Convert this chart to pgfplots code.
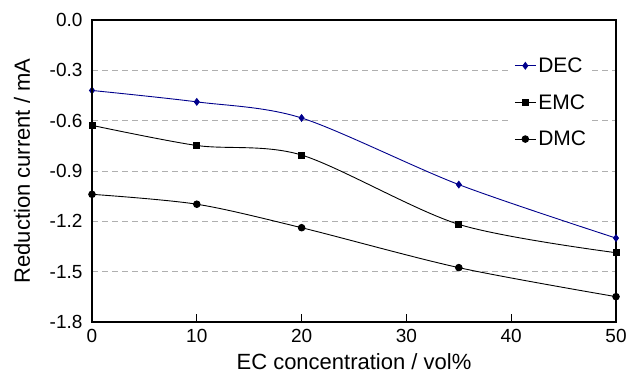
\documentclass[border=0pt]{standalone}
\usepackage{fontspec}
\setmainfont{Liberation Sans}
\usepackage{pgfplots}
\pgfplotsset{compat=1.18}
\usetikzlibrary{calc}
\definecolor{decblue}{RGB}{0,0,140}
\definecolor{gridgray}{RGB}{175,175,175}
\begin{document}
\begin{tikzpicture}
\begin{axis}[
  name=ax,
  scale only axis,
  width=524bp, height=302bp,
  xmin=0, xmax=50, ymin=-1.8, ymax=0,
  clip=false,
  xtick={0,10,20,30,40,50},
  ytick={-1.8,-1.5,-1.2,-0.9,-0.6,-0.3,0},
  yticklabels={-1.8,-1.5,-1.2,-0.9,-0.6,-0.3,0.0},
  tick align=inside,
  xtick pos=bottom, ytick pos=left,
  major tick length=8bp,
  ytick style={draw=none},
  xtick style={line width=0.8bp, black},
  ymajorgrids,
  grid style={gridgray, dash pattern=on 6bp off 4bp, line width=0.9bp},
  axis line style={line width=1.2bp},
  /pgf/number format/assume math mode=true,
  tick label style={font=\fontsize{19bp}{22bp}\selectfont},
  yticklabel style={xshift=-6bp},
  xticklabel style={yshift=-4bp},
  xlabel={EC concentration / vol\%},
  ylabel={Reduction current / mA},
  xlabel style={font=\fontsize{22bp}{26bp}\selectfont, at={(axis description cs:0.5,-0.1325)}, anchor=center},
  ylabel style={font=\fontsize{22bp}{26bp}\selectfont, at={(axis description cs:-0.1336,0.5)}, anchor=center, rotate=0},
  legend style={draw=none, fill=white, at={(axis description cs:0.800,0.889)}, anchor=north west,
    font=\fontsize{21bp}{24bp}\selectfont, row sep=16.5bp},
  legend cell align=left,
  legend image code/.code={\draw[mark repeat=2,mark phase=2,#1] plot coordinates {(0bp,0bp) (10.5bp,0bp) (21bp,0bp)};},
]
\addplot[decblue, line width=0.9bp, smooth, mark=diamond*, mark size=3.3bp, mark options={solid, fill=decblue}]
  coordinates {(0,-0.420) (10,-0.488) (20,-0.584) (35,-0.981) (50,-1.300)};
\addlegendentry{DEC}
\addplot[black, line width=0.9bp, smooth, mark=square*, mark size=3bp, mark options={solid, fill=black}]
  coordinates {(0,-0.628) (10,-0.748) (20,-0.805) (35,-1.218) (50,-1.387)};
\addlegendentry{EMC}
\addplot[black, line width=0.9bp, smooth, mark=*, mark size=3.3bp, mark options={solid, fill=black}]
  coordinates {(0,-1.039) (10,-1.098) (20,-1.238) (35,-1.476) (50,-1.649)};
\addlegendentry{DMC}
\end{axis}
\draw[line width=2bp] (ax.south west) -- (ax.north west);
\pgfresetboundingbox
\path ($(ax.south west)+(-92bp,-56bp)$) rectangle ($(ax.north east)+(12bp,20bp)$);
\end{tikzpicture}
\end{document}
